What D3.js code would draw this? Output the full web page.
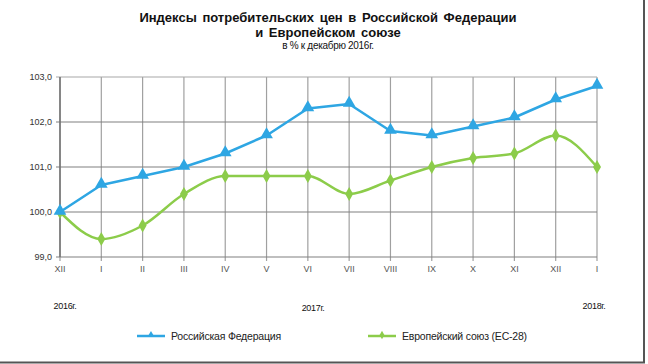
<!DOCTYPE html>
<html>
<head>
<meta charset="utf-8">
<script src="https://cdn.jsdelivr.net/npm/d3@7"></script>
<style>
  body { margin: 0; background: #fff; }
  svg { font-family: "Liberation Sans", Arial, sans-serif; }
</style>
</head>
<body>
<div id="chart"></div>
<script>
// months, Dec 2016 .. Jan 2018
const months = ["XII", "I", "II", "III", "IV", "V", "VI", "VII", "VIII", "IX", "X", "XI", "XII", "I"];
const russia = [100.0, 100.6, 100.8, 101.0, 101.3, 101.7, 102.3, 102.4, 101.8, 101.7, 101.9, 102.1, 102.5, 102.8];
const europe = [100.0, 99.4, 99.7, 100.4, 100.8, 100.8, 100.8, 100.4, 100.7, 101.0, 101.2, 101.3, 101.7, 101.0];
const yTicks = [99, 100, 101, 102, 103];
const years = [{label: "2016г.", i: 0}, {label: "2017г.", i: 6.2}, {label: "2018г.", i: 13}];
const seriesNames = ["Российская Федерация", "Европейский союз (ЕС-28)"];

const width = 648, height = 364;
const margin = {top: 77, right: 51, bottom: 107, left: 60};
const w = width - margin.left - margin.right;
const h = height - margin.top - margin.bottom;

const svg = d3.select("#chart").append("svg")
    .attr("width", width)
    .attr("height", height);

// frame (only right and bottom edges visible)
svg.append("line").attr("x1", 644).attr("x2", 644).attr("y1", 0).attr("y2", 363)
    .attr("stroke", "#555").attr("stroke-width", 2);
svg.append("line").attr("x1", 0).attr("x2", 645).attr("y1", 362.5).attr("y2", 362.5)
    .attr("stroke", "#555").attr("stroke-width", 2);

// titles
svg.append("text").attr("x", 328).attr("y", 22).attr("text-anchor", "middle")
    .style("font-size", "13px").style("font-weight", "bold").style("word-spacing", "2px").attr("fill", "#111")
    .text("Индексы потребительских цен в Российской Федерации");
svg.append("text").attr("x", 328).attr("y", 37).attr("text-anchor", "middle")
    .style("font-size", "13px").style("font-weight", "bold").style("word-spacing", "2px").attr("fill", "#111")
    .text("и Европейском союзе");
svg.append("text").attr("x", 328).attr("y", 49).attr("text-anchor", "middle")
    .style("font-size", "10px").style("letter-spacing", "-0.3px").attr("fill", "#111")
    .text("в % к декабрю 2016г.");

const g = svg.append("g").attr("transform", `translate(${margin.left},${margin.top})`);

const x = d3.scaleLinear().domain([0, months.length - 1]).range([0, w]);
const y = d3.scaleLinear().domain([99, 103]).range([h, 0]);

// vertical grid
g.append("g").selectAll("line")
    .data(months.map((m, i) => i))
    .enter().append("line")
    .attr("x1", d => x(d)).attr("x2", d => x(d))
    .attr("y1", 0).attr("y2", h + 4)
    .attr("stroke", "#a0a0a0").attr("stroke-width", 1.2);

// horizontal grid
g.append("g").selectAll("line")
    .data(yTicks)
    .enter().append("line")
    .attr("x1", -4).attr("x2", w)
    .attr("y1", d => y(d)).attr("y2", d => y(d))
    .attr("stroke", d => d === 103 ? "#a8a8a8" : "#808080").attr("stroke-width", 1.2);

// left axis line
g.append("line").attr("x1", 0).attr("x2", 0).attr("y1", 0).attr("y2", h)
    .attr("stroke", "#707070").attr("stroke-width", 1.5);

// y labels
g.append("g").selectAll("text")
    .data(yTicks)
    .enter().append("text")
    .attr("x", -8).attr("y", d => y(d)).attr("dy", "0.35em")
    .attr("text-anchor", "end")
    .style("font-size", "9px").attr("fill", "#333")
    .text(d => d3.format(".1f")(d).replace(".", ","));

// x labels
g.append("g").selectAll("text")
    .data(months)
    .enter().append("text")
    .attr("x", (d, i) => x(i)).attr("y", h + 15)
    .attr("text-anchor", "middle")
    .style("font-size", "9px").attr("fill", "#555")
    .text(d => d);

// year labels
svg.append("g").selectAll("text")
    .data(years)
    .enter().append("text")
    .attr("x", d => margin.left + x(d.i) + (d.i === 0 ? 5 : -3))
    .attr("y", (d, i) => i === 1 ? 311 : 309)
    .attr("text-anchor", "middle")
    .style("font-size", "9px").style("letter-spacing", "-0.3px").attr("fill", "#111")
    .text(d => d.label);

const blue = "#2ea6e3", green = "#8ccc4a";

const lineRu = d3.line().x((d, i) => x(i)).y(d => y(d));
const lineEu = d3.line().x((d, i) => x(i)).y(d => y(d)).curve(d3.curveMonotoneX);

g.append("path").datum(europe).attr("d", lineEu)
    .attr("fill", "none").attr("stroke", green).attr("stroke-width", 2.5);
g.append("path").datum(russia).attr("d", lineRu)
    .attr("fill", "none").attr("stroke", blue).attr("stroke-width", 2.5)
    .attr("stroke-linejoin", "round");

const tri = d3.symbol().type(d3.symbolTriangle).size(70);
const dia = d3.symbol().type(d3.symbolDiamond).size(55);

g.append("g").selectAll("path")
    .data(europe).enter().append("path")
    .attr("d", dia)
    .attr("transform", (d, i) => `translate(${x(i)},${y(d)})`)
    .attr("fill", green);

g.append("g").selectAll("path")
    .data(russia).enter().append("path")
    .attr("d", tri)
    .attr("transform", (d, i) => `translate(${x(i)},${y(d) - 1})`)
    .attr("fill", blue);

// legend
const legend = svg.append("g");
const legendItems = [
    {name: seriesNames[0], color: blue, sym: d3.symbol().type(d3.symbolTriangle).size(22), x0: 137},
    {name: seriesNames[1], color: green, sym: d3.symbol().type(d3.symbolDiamond).size(20), x0: 368}
];
legendItems.forEach(it => {
    legend.append("line").attr("x1", it.x0).attr("x2", it.x0 + 28)
        .attr("y1", 336).attr("y2", 336)
        .attr("stroke", it.color).attr("stroke-width", 2.5);
    legend.append("path").attr("d", it.sym())
        .attr("transform", `translate(${it.x0 + 14},335)`)
        .attr("fill", it.color);
    legend.append("text").attr("x", it.x0 + 34).attr("y", 336).attr("dy", "0.35em")
        .style("font-size", "10.5px").style("letter-spacing", "-0.2px").attr("fill", "#222")
        .text(it.name);
});
</script>
</body>
</html>
